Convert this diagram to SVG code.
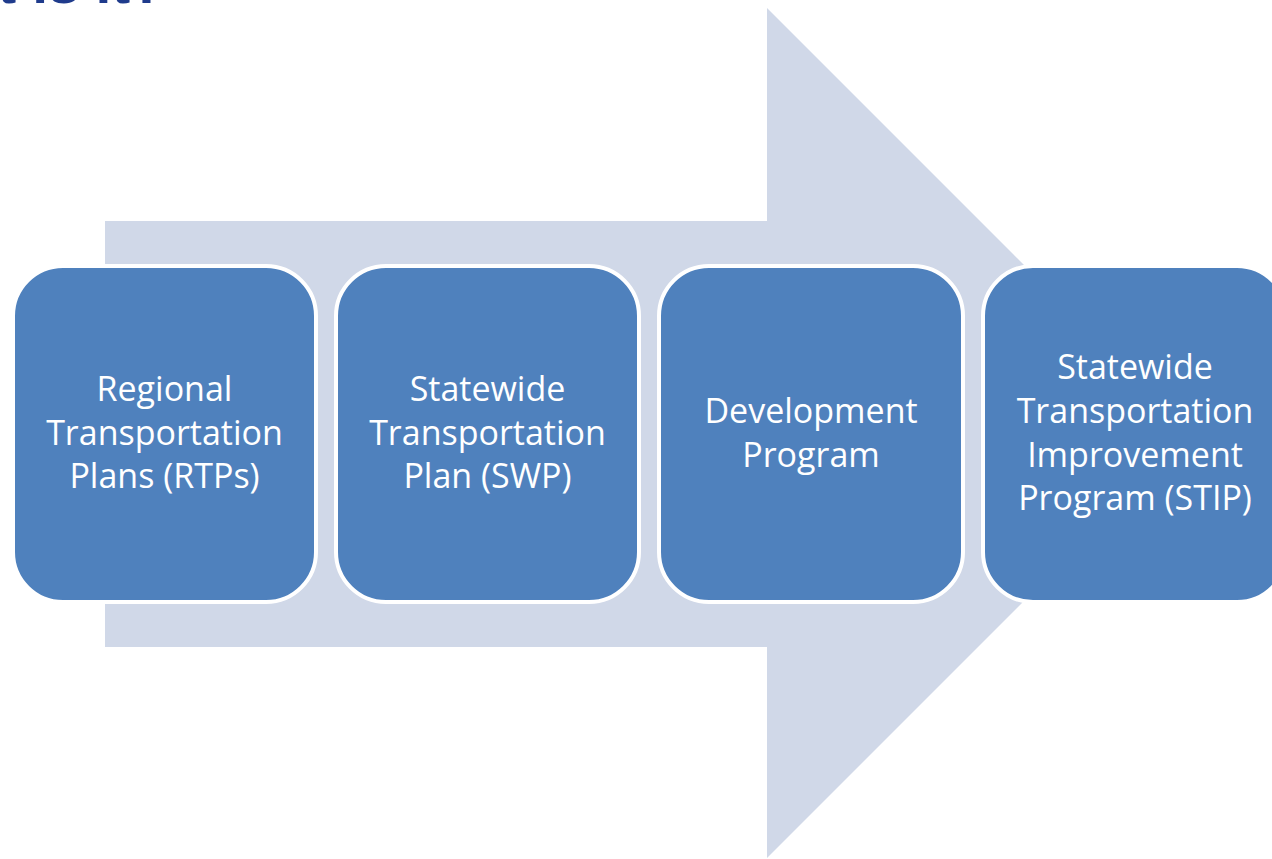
<svg xmlns="http://www.w3.org/2000/svg" width="1272" height="859" viewBox="0 0 1272 859">
<style>
.box{fill:#4f81bd;stroke:#ffffff;stroke-width:4}
.lbl{font-family:"Open Sans","Noto Sans",sans-serif;font-size:34px;fill:#ffffff;text-anchor:middle}
.title{font-family:"Liberation Sans",Arial,sans-serif;font-weight:bold;font-size:57px;fill:#1f3b8c}
</style>
<rect width="1272" height="859" fill="#ffffff"/>
<text class="title" x="-123" y="2.5">What is it?</text>
<g id="connectors">
<polygon points="105,221 767,221 767,8 1192,433 767,858 767,647 105,647" fill="#d0d8e8"/>
</g>
<g id="node1">
<rect class="box" x="13" y="266" width="303" height="336" rx="50" ry="50"/>
<text class="lbl" x="164.5" y="401">Regional</text>
<text class="lbl" x="164.5" y="445">Transportation</text>
<text class="lbl" x="164.5" y="488">Plans (RTPs)</text>
</g>
<g id="node2">
<rect class="box" x="336" y="266" width="303" height="336" rx="50" ry="50"/>
<text class="lbl" x="487.5" y="401">Statewide</text>
<text class="lbl" x="487.5" y="445">Transportation</text>
<text class="lbl" x="487.5" y="488">Plan (SWP)</text>
</g>
<g id="node3">
<rect class="box" x="659" y="266" width="304" height="336" rx="50" ry="50"/>
<text class="lbl" x="811" y="423">Development</text>
<text class="lbl" x="811" y="467">Program</text>
</g>
<g id="node4">
<rect class="box" x="983" y="266" width="304" height="336" rx="50" ry="50"/>
<text class="lbl" x="1135" y="379">Statewide</text>
<text class="lbl" x="1135" y="423">Transportation</text>
<text class="lbl" x="1135" y="467">Improvement</text>
<text class="lbl" x="1135" y="510">Program (STIP)</text>
</g>
</svg>
